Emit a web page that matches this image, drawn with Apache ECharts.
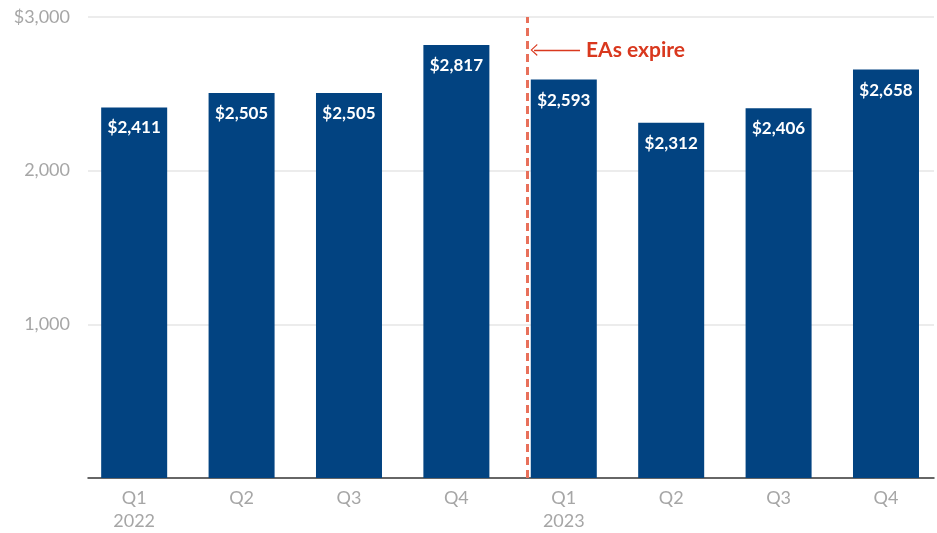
<!DOCTYPE html>
<html>
<head>
<meta charset="utf-8">
<script src="https://cdn.jsdelivr.net/npm/echarts@6/dist/echarts.min.js"></script>
<style>
  html, body { margin: 0; padding: 0; background: #fff; }
  #chart { width: 937px; height: 533px; }
</style>
</head>
<body>
<div id="chart"></div>
<script>
// Quarterly amounts, 2022 Q1 through 2023 Q4
const quarterLabels = ['Q1\n2022', 'Q2', 'Q3', 'Q4', 'Q1\n2023', 'Q2', 'Q3', 'Q4'];
const amounts = [2411, 2505, 2505, 2817, 2593, 2312, 2406, 2658];
const yTicks = [0, 1000, 2000, 3000];

// Position (in quarter units) of the expiry marker and its arrow
const expiryAt = 3.657;
const arrowFrom = 4.151;
const arrowTo = 3.723;
const arrowLevel = 2786;

const FONT = 'Lato, "Open Sans", sans-serif';
const BAR = '#024381';
const GREY = '#a6a6a6';

const fmtMoney = v => '$' + v.toLocaleString('en-US');

const chart = echarts.init(document.getElementById('chart'), null, { renderer: 'canvas' });

chart.setOption({
  animation: false,
  backgroundColor: '#fff',
  grid: { left: 88, right: 3, top: 17, bottom: 54 },
  xAxis: {
    type: 'value',
    min: -0.43,
    max: 7.447,
    splitLine: { show: false },
    axisTick: { show: false, customValues: quarterLabels.map((_, i) => i) },
    axisLine: { show: true, lineStyle: { color: '#3a3a3a', width: 1.5 } },
    axisLabel: {
      customValues: quarterLabels.map((_, i) => i),
      formatter: v => quarterLabels[Math.round(v)],
      color: GREY,
      fontFamily: FONT,
      fontSize: 18,
      lineHeight: 23,
      margin: 9
    }
  },
  yAxis: {
    type: 'value',
    min: yTicks[0],
    max: yTicks[yTicks.length - 1],
    interval: 1000,
    axisLine: { show: false },
    axisTick: { show: false },
    splitLine: { lineStyle: { color: '#e6e6e6', width: 1.5 } },
    axisLabel: {
      formatter: v => v === 0 ? '' : (v === 3000 ? fmtMoney(v) : v.toLocaleString('en-US')),
      color: GREY,
      fontFamily: FONT,
      fontSize: 18,
      margin: 18
    }
  },
  series: [{
    type: 'bar',
    data: amounts.map((v, i) => [i, v]),
    barWidth: 66,
    itemStyle: { color: BAR },
    label: {
      show: true,
      position: 'insideTop',
      distance: 12,
      formatter: p => fmtMoney(p.value[1]),
      color: '#fff',
      fontFamily: FONT,
      fontWeight: 'bold',
      fontSize: 17
    },
    markLine: {
      silent: true,
      animation: false,
      data: [
        [
          {
            coord: [expiryAt, yTicks[0]],
            symbol: 'none',
            lineStyle: { color: '#e8705a', width: 3, type: [8, 5] },
            label: { show: false }
          },
          { coord: [expiryAt, yTicks[yTicks.length - 1]], symbol: 'none' }
        ],
        [
          {
            coord: [arrowFrom, arrowLevel],
            symbol: 'none',
            lineStyle: { color: '#d9381e', width: 1.3, type: 'solid' },
            label: {
              show: true,
              position: 'start',
              formatter: 'EAs expire',
              color: '#d9381e',
              fontFamily: FONT,
              fontWeight: 'bold',
              fontSize: 21,
              distance: 6
            }
          },
          {
            coord: [arrowTo, arrowLevel],
            symbol: 'path://M0,7 L6,0 L12,7 L10.8,7.6 L6,1.7 L1.2,7.6 Z',
            symbolSize: [12, 7]
          }
        ]
      ]
    }
  }]
});
</script>
</body>
</html>
